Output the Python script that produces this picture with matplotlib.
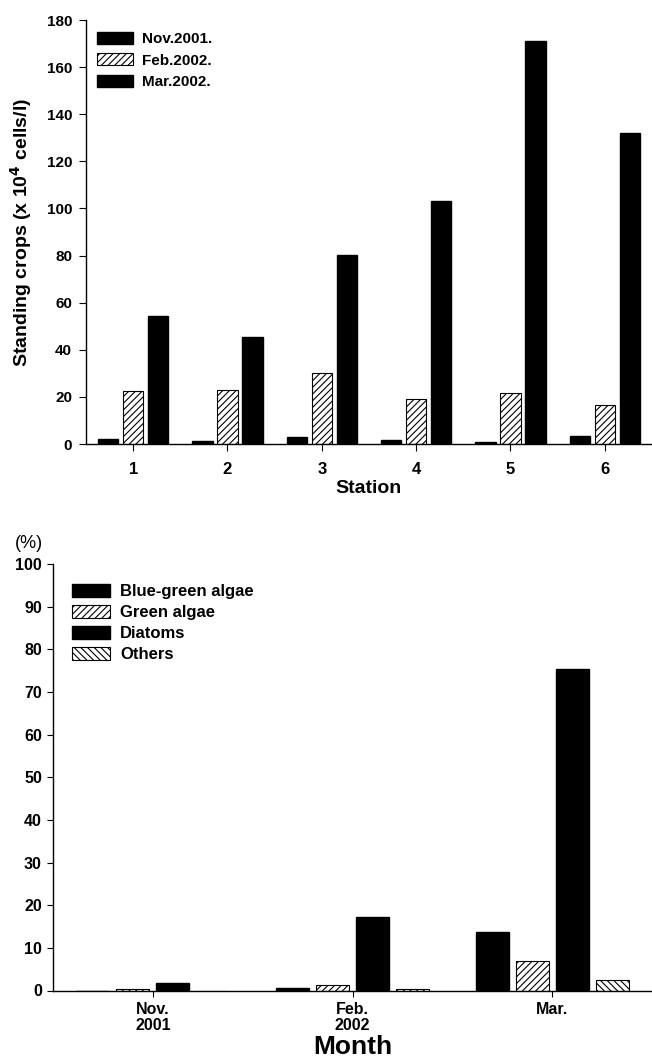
import numpy as np
import matplotlib
matplotlib.use("Agg")
import matplotlib.pyplot as plt

plt.rcParams['font.family'] = ['Liberation Sans', 'DejaVu Sans']
plt.rcParams['hatch.linewidth'] = 0.8

# top panel: standing crops per station
stations = [1, 2, 3, 4, 5, 6]
nov_2001 = [2.0, 1.1, 3.1, 1.6, 1.0, 3.5]
feb_2002 = [22.4, 22.9, 30.1, 19.1, 21.8, 16.4]
mar_2002 = [54.5, 45.3, 80.1, 103.0, 171.2, 132.1]
top_labels = ['Nov.2001.', 'Feb.2002.', 'Mar.2002.']

# bottom panel: composition (%) per month
months = ['Nov.\n2001', 'Feb.\n2002', 'Mar.']
blue_green = [0.0, 0.5, 13.8]
green_algae = [0.3, 1.2, 7.0]
diatoms = [1.8, 17.3, 75.3]
others = [0.0, 0.3, 2.5]
bot_labels = ['Blue-green algae', 'Green algae', 'Diatoms', 'Others']

W, H = 652, 1064
fig = plt.figure(figsize=(W / 100, H / 100), dpi=100)

def px_axes(l, t, r, b):
    return fig.add_axes([l / W, 1 - b / H, (r - l) / W, (b - t) / H])

def style(ax, ticklen, pad):
    for s in ['top', 'right']:
        ax.spines[s].set_visible(False)
    for s in ['left', 'bottom']:
        ax.spines[s].set_linewidth(1.0)
    ax.tick_params(direction='out', length=ticklen, width=0.8, pad=pad)
    for lab in ax.get_xticklabels() + ax.get_yticklabels():
        lab.set_fontweight('bold')

# ---- top chart
ax1 = px_axes(86, 20, 652, 444)
x = np.arange(len(stations)) + 1
w1 = 0.215
off1 = 0.265
ax1.bar(x - off1, nov_2001, w1, color='black', edgecolor='black', label=top_labels[0])
ax1.bar(x, feb_2002, w1, color='white', edgecolor='black', hatch='/////', linewidth=0.8,
        label=top_labels[1])
ax1.bar(x + off1, mar_2002, w1, color='black', edgecolor='black', label=top_labels[2])
ax1.set_xlim(0.5, 6.5)
ax1.set_ylim(0, 180)
ax1.set_yticks(range(0, 181, 20))
ax1.set_xticks(x)
ax1.set_xticklabels([str(s) for s in stations], fontsize=12)
ax1.tick_params(axis='y', labelsize=11)
style(ax1, 5, 5)
ax1.tick_params(axis='x', pad=8)
ax1.set_ylabel('Standing crops (x 10$^{\\mathbf{4}}$ cells/l)', fontsize=14, fontweight='bold')
ax1.yaxis.set_label_coords(-0.092, 0.5)
ax1.set_xlabel('Station', fontsize=14, fontweight='bold')
ax1.xaxis.set_label_coords(0.5, -0.085)
ax1.legend(loc='upper left', bbox_to_anchor=(97 / W, 1 - 32 / H), bbox_transform=fig.transFigure,
           frameon=False, borderpad=0, borderaxespad=0, handlelength=2.35, handleheight=0.85,
           handletextpad=0.6, labelspacing=0.45, prop={'weight': 'bold', 'size': 11})

# ---- bottom chart
ax2 = px_axes(53, 564, 652, 990.5)
m = np.arange(len(months))
w2 = 0.165
ax2.bar(m - 0.3, blue_green, w2, color='black', edgecolor='black', label=bot_labels[0])
ax2.bar(m - 0.1, green_algae, w2, color='white', edgecolor='black', hatch='/////', linewidth=0.8,
        label=bot_labels[1])
ax2.bar(m + 0.1, diatoms, w2, color='black', edgecolor='black', label=bot_labels[2])
ax2.bar(m + 0.3, others, w2, color='white', edgecolor='black', hatch='\\\\\\\\\\', linewidth=0.8,
        label=bot_labels[3])
ax2.set_xlim(-0.5, 2.5)
ax2.set_ylim(0, 100)
ax2.set_yticks(range(0, 101, 10))
ax2.set_xticks(m)
ax2.set_xticklabels(months, fontsize=11.5, linespacing=1.15)
ax2.tick_params(axis='y', labelsize=11.5)
style(ax2, 4, 4)
ax2.tick_params(axis='x', pad=4)
ax2.set_xlabel('Month', fontsize=19, fontweight='bold')
ax2.xaxis.set_label_coords(0.5, -0.105)
fig.text(29 / W, 1 - 544 / H, '(%)', fontsize=13, ha='center', va='center')
ax2.legend(loc='upper left', bbox_to_anchor=(72 / W, 1 - 584 / H), bbox_transform=fig.transFigure,
           frameon=False, borderpad=0, borderaxespad=0, handlelength=2.3, handleheight=0.8,
           handletextpad=0.6, labelspacing=0.35, prop={'weight': 'bold', 'size': 12})

fig.savefig('out.png', dpi=100)
